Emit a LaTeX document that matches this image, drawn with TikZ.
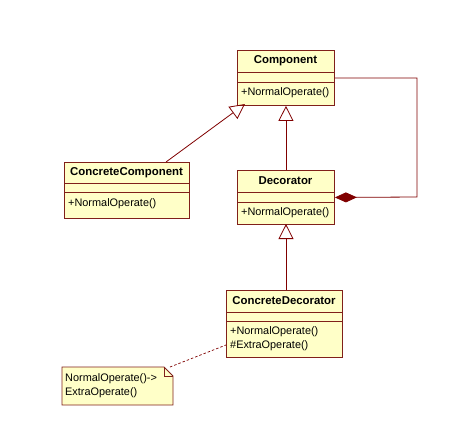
\documentclass[tikz,border=0pt]{standalone}
\usepackage{fontspec}
\setmainfont{Liberation Sans}
\usetikzlibrary{arrows.meta}
\definecolor{boxfill}{HTML}{FFFFC8}
\definecolor{boxline}{HTML}{80201A}
\definecolor{conn}{HTML}{800000}
\tikzset{
  classbox/.style={draw=boxline, fill=boxfill, line width=0.9pt, rectangle, inner sep=0pt, anchor=north west},
  titletext/.style={font=\fontsize{11.4}{13}\selectfont\bfseries, inner sep=0pt},
  methtext/.style={font=\fontsize{10.9}{14}\selectfont, inner sep=0pt, anchor=west, align=left},
  sepline/.style={draw=boxline, line width=0.9pt},
  conline/.style={draw=conn, line width=0.8pt},
  inherit/.style={conline, -{Triangle[open, length=15pt, width=15pt, line width=0.8pt]}},
  compos/.style={conline, -{Diamond[length=22pt, width=10pt, fill=conn]}},
  noteline/.style={draw=conn, line width=0.7pt, dash pattern=on 2.5pt off 2pt}
}
\begin{document}
\begin{tikzpicture}[x=1pt, y=-1pt]
\useasboundingbox (0,0) rectangle (472,440);
\fill[white] (0,0) rectangle (472,440);

% Component
\node[classbox, minimum width=97pt, minimum height=55pt] (comp) at (237,50) {};
\draw[sepline] (237,72) -- (334,72);
\draw[sepline] (237,82) -- (334,82);
\node[titletext] (compT) at (285.5,61) {Component};
\node[methtext] (compM) at (241,93) {+NormalOperate()};

% ConcreteComponent
\node[classbox, minimum width=125pt, minimum height=56pt] (cc) at (64,162) {};
\draw[sepline] (64,183) -- (189,183);
\draw[sepline] (64,192) -- (189,192);
\node[titletext] (ccT) at (126.5,173) {ConcreteComponent};
\node[methtext] (ccM) at (68,204) {+NormalOperate()};

% Decorator
\node[classbox, minimum width=97pt, minimum height=54pt] (dec) at (237,170) {};
\draw[sepline] (237,192) -- (334,192);
\draw[sepline] (237,202) -- (334,202);
\node[titletext] (decT) at (285.5,181) {Decorator};
\node[methtext] (decM) at (241,213) {+NormalOperate()};

% ConcreteDecorator
\node[classbox, minimum width=116pt, minimum height=67pt] (cd) at (226,290) {};
\draw[sepline] (226,312) -- (342,312);
\draw[sepline] (226,321) -- (342,321);
\node[titletext] (cdT) at (284,301) {ConcreteDecorator};
\node[methtext] (cdM) at (230,339) {+NormalOperate()\\\#ExtraOperate()};

% Note
\draw[draw=boxline, fill=boxfill, line width=0.8pt] (62,367) -- (164,367) -- (173,376) -- (173,405) -- (62,405) -- cycle;
\draw[draw=boxline, line width=0.8pt] (164,367) -- (164,376) -- (173,376);
\node[methtext] (note) at (65,386) {NormalOperate()->\\ExtraOperate()};

% Connectors
\coordinate (ccTop) at (166,162);
\coordinate (compTip) at (245,104);
\draw[inherit] (ccTop) -- (compTip);
\draw[inherit] (dec.north) -- (comp.south);
\coordinate (cdTop) at (286,290);
\coordinate (decBot) at (286,224);
\draw[inherit] (cdTop) -- (decBot);
\coordinate (rc) at (417,197);
\draw[compos] (comp.east) -| (rc) -- (dec.east);
\coordinate (noteEnd) at (170,367);
\coordinate (cdLeft) at (226,345);
\draw[noteline] (noteEnd) -- (cdLeft);
\end{tikzpicture}
\end{document}
